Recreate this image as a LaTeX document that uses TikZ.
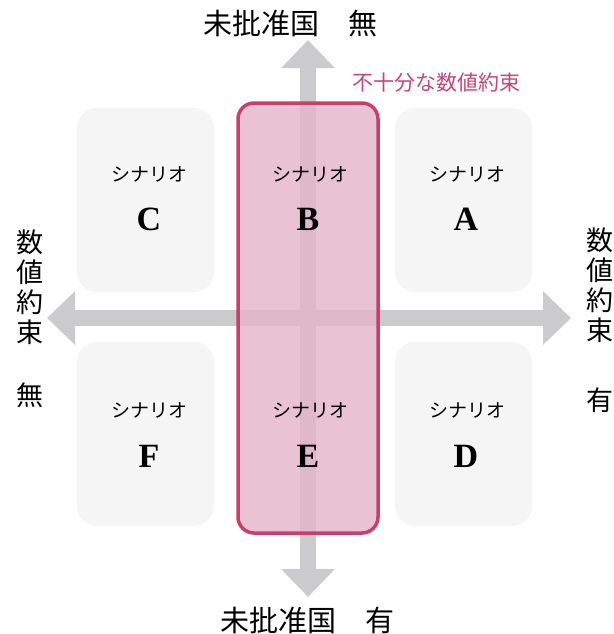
\documentclass[tikz,border=0pt]{standalone}
\usepackage{fontspec}
\newfontfamily\jp{Noto Sans CJK JP}
\newfontfamily\lat{Liberation Serif}
\usetikzlibrary{arrows.meta}
\definecolor{arrowgray}{RGB}{203,203,206}
\definecolor{boxgray}{RGB}{245,245,245}
\definecolor{pinkfill}{RGB}{228,180,201}
\definecolor{pinkline}{RGB}{200,64,104}
\definecolor{pinktext}{RGB}{196,70,120}
\begin{document}
\begin{tikzpicture}[x=1pt,y=-1pt,
  scenbox/.style={fill=boxgray, rounded corners=20pt, minimum width=137pt, minimum height=184pt, inner sep=0pt},
  bigarrow/.style={draw=arrowgray, line width=16pt, -{Triangle[length=28pt,width=52pt]}},
  scen/.style={font=\jp\fontsize{19}{19}\selectfont, inner sep=0pt},
  letter/.style={font=\lat\bfseries\fontsize{34}{34}\selectfont, anchor=base, inner sep=0pt},
  axislabel/.style={font=\jp\fontsize{29}{30}\selectfont, inner sep=0pt},
  vaxis/.style={font=\jp\fontsize{27}{30}\selectfont, align=center, inner sep=0pt},
  highlight/.style={draw=pinkline, line width=3.5pt, fill=pinkfill, fill opacity=0.8, rounded corners=16pt, minimum width=140pt, minimum height=430pt, inner sep=0pt}
]
\useasboundingbox (0,0) rectangle (613,634);
\fill[white] (0,0) rectangle (613,634);

% scenario boxes
\node[scenbox] (boxC) at (145.5,200) {};
\node[scenbox] (boxA) at (463.5,200) {};
\node[scenbox] (boxF) at (145.5,434) {};
\node[scenbox] (boxD) at (463.5,434) {};

% axes
\coordinate (ctr) at (308,318);
\coordinate (top) at (308,40);
\coordinate (bot) at (308,597);
\coordinate (lft) at (47,318);
\coordinate (rgt) at (571,318);
\draw[bigarrow] (ctr) -- (top);
\draw[bigarrow] (ctr) -- (bot);
\draw[bigarrow] (ctr) -- (lft);
\draw[bigarrow] (ctr) -- (rgt);

% highlighted column
\node[highlight] (mid) at (308,318) {};

% scenario texts
\node[scen] (sC) at (149,174) {シナリオ};
\node[scen] (sB) at (310,174) {シナリオ};
\node[scen] (sA) at (467,174) {シナリオ};
\node[scen] (sF) at (149,410) {シナリオ};
\node[scen] (sE) at (310,410) {シナリオ};
\node[scen] (sD) at (467,410) {シナリオ};
\node[letter] (lC) at (149,230) {C};
\node[letter] (lB) at (308,230) {B};
\node[letter] (lA) at (466,230) {A};
\node[letter] (lF) at (149,467) {F};
\node[letter] (lE) at (308,467) {E};
\node[letter] (lD) at (466,467) {D};

% axis labels
\node[axislabel] (ttop) at (290,24) {未批准国　無};
\node[axislabel] (tbot) at (307,620) {未批准国　有};
\node[font=\jp\fontsize{21}{21}\selectfont, text=pinktext, inner sep=0pt] (insuf) at (436,83) {不十分な数値約束};
\node[vaxis] (lv) at (30,287) {数\\値\\約\\束};
\node[vaxis] (lvn) at (30,395) {無};
\node[vaxis] (rv) at (600,285) {数\\値\\約\\束};
\node[vaxis] (rvy) at (600,400) {有};
\end{tikzpicture}
\end{document}
